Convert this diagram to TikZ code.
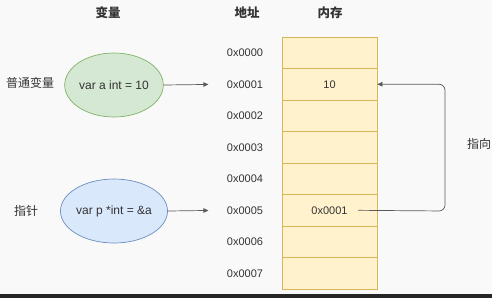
\documentclass[tikz,border=0pt]{standalone}
\usepackage{fontspec}
\setmainfont{Liberation Sans}
\newfontfamily\cjk{Noto Sans CJK SC}
\usetikzlibrary{arrows.meta,shapes.geometric}
\definecolor{bgc}{HTML}{F9F9F9}
\definecolor{txt}{HTML}{333333}
\definecolor{lnc}{HTML}{5A5A5A}
\definecolor{gfill}{HTML}{D5E8D4}
\definecolor{gline}{HTML}{82B366}
\definecolor{bfill}{HTML}{DAE8FC}
\definecolor{bline}{HTML}{6C8EBF}
\definecolor{yfill}{HTML}{FFF2CC}
\definecolor{yline}{HTML}{D6B656}
\tikzset{
  x=1pt, y=-1pt,
  every node/.style={text=txt, font=\fontsize{11}{13}\selectfont},
  header/.style={font=\cjk\bfseries\fontsize{12.5}{14}\selectfont},
  cjklabel/.style={font=\cjk\fontsize{12}{14}\selectfont},
  varnode/.style={ellipse, draw, line width=0.7pt, minimum width=96pt, minimum height=64pt, inner sep=0pt, font=\fontsize{12}{14}\selectfont},
  cell/.style={rectangle, draw=yline, fill=yfill, line width=0.7pt, minimum width=95pt, minimum height=31.5pt, inner sep=0pt},
  addr/.style={},
  link/.style={draw=lnc, line width=0.7pt, -{Triangle[length=5pt,width=4.5pt]}},
}
\begin{document}
\begin{tikzpicture}
  \fill[bgc] (0,0) rectangle (492,298);
  \fill[black!85] (0,294) rectangle (492,298);
  \useasboundingbox (0,0) rectangle (492,298);

  % column headers
  \node[header] (hvar) at (108,13) {变量};
  \node[header] (haddr) at (247,13) {地址};
  \node[header] (hmem) at (330,13) {内存};

  % memory cells with addresses
  \foreach \i in {0,...,7} {
    \node[cell] (m\i) at (329.5,{52.75+31.5*\i}) {};
    \node[addr] (a\i) at (245,{52.75+31.5*\i}) {0x000\i};
  }
  \node at (m1) (v1) {10};
  \node at (m5) (v5) {0x0001};

  % variables
  \node[varnode, draw=gline, fill=gfill] (va) at (114,85) {var a int = 10};
  \node[varnode, draw=bline, fill=bfill] (vp) at (114,211) {var p *int = \&a};
  \node[cjklabel] (la) at (30,83) {普通变量};
  \node[cjklabel] (lp) at (26,211) {指针};

  % connectors
  \draw[link, shorten >=15pt] (va.east) -- (a1.west);
  \draw[link, shorten >=15pt] (vp.east) -- (a5.west);
  \draw[link, rounded corners=6pt, shorten <=7pt] (v5.east) -- (445,211) -- (445,84.25) -- (m1.east);
  \node[cjklabel] (lpt) at (479,144) {指向};
\end{tikzpicture}
\end{document}
